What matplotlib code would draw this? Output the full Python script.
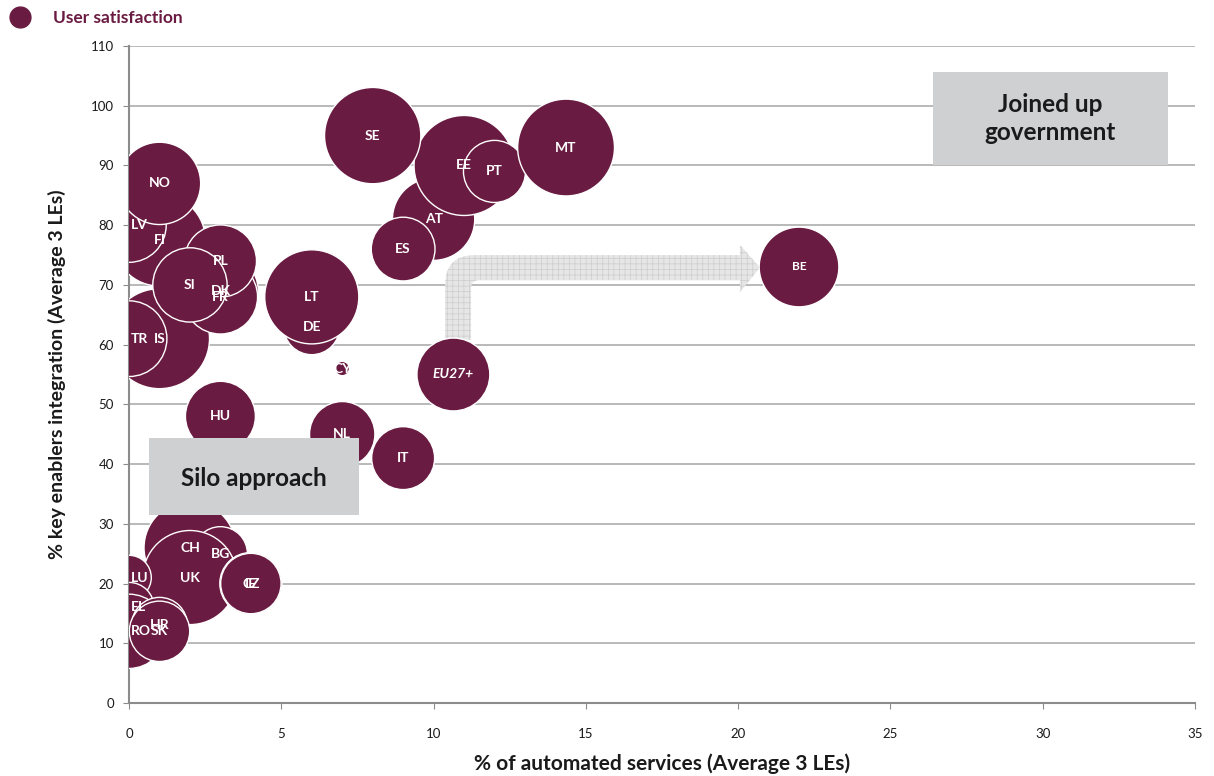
import matplotlib.pyplot as plt
from matplotlib.path import Path
from matplotlib.patches import PathPatch, Rectangle
from matplotlib.lines import Line2D

plt.rcParams['font.family'] = ['Lato', 'DejaVu Sans']
plt.rcParams['hatch.linewidth'] = 0.5

# data (draw order = list order, later ones sit on top)
countries = ['IS', 'TR', 'FI', 'LV', 'NO', 'DK', 'FR', 'PL', 'SI', 'DE', 'LT', 'CY',
             'AT', 'ES', 'EE', 'PT', 'SE', 'MT', 'EU27+', 'BE', 'HU', 'NL', 'IT',
             'CH', 'BG', 'UK', 'CZ', 'IE', 'LU', 'EL', 'RO', 'HR', 'SK']
automated = [1, 0, 1, 0, 1, 3, 3, 3, 2, 6, 6, 7,
             10, 9, 11, 12, 8, 14.35, 10.65, 22, 3, 7, 9,
             2, 3, 2, 4, 4, 0, 0, 0, 1, 1]
integration = [61, 61, 77.5, 80, 87, 69, 68, 74, 70, 63, 68, 56,
               81, 76, 90, 89, 95, 93, 55, 73, 48, 45, 41,
               26, 25, 21, 20, 20, 21, 16, 12, 13, 12]
satisfaction = [96, 55, 81, 53, 65, 55, 53, 50, 53, 30, 85, 2,
                65, 39, 96, 37, 89, 90, 51, 61, 47, 41, 38,
                81, 28, 85, 37, 35, 19, 24, 53, 30, 35]

xticks = [0, 5, 10, 15, 20, 25, 30, 35]
yticks = list(range(0, 111, 10))

maroon = '#6a1b41'
txt = '#1a1a1a'
axis_gray = '#8c8c8c'

fig = plt.figure(figsize=(12.14, 7.76), dpi=100)
ax = fig.add_axes([0.1063, 0.0941, 0.878, 0.8466])
ax.set_xlim(0, 35)
ax.set_ylim(0, 110)
ax.set_xticks(xticks)
ax.set_yticks(yticks)

ax.set_axisbelow(True)
ax.yaxis.grid(True, color='#a6a6a6', lw=1.1)
for s in ['top', 'right']:
    ax.spines[s].set_visible(False)
for s in ['left', 'bottom']:
    ax.spines[s].set_color(axis_gray)
    ax.spines[s].set_linewidth(1.5)
ax.tick_params(direction='out', length=4, color=axis_gray, labelsize=9.5,
               labelcolor=txt)
ax.tick_params(axis='x', pad=14)
ax.tick_params(axis='y', pad=7)

# bent arrow from EU27+ towards BE
verts = [(10.38, 60.8), (10.38, 70.0), (10.38, 75.0), (11.36, 75.0),
         (20.06, 75.0), (20.06, 76.7), (20.72, 72.9), (20.06, 68.8),
         (20.06, 70.8), (11.49, 70.8), (11.23, 70.8), (11.23, 69.5),
         (11.23, 60.8), (10.38, 60.8)]
codes = [Path.MOVETO, Path.LINETO, Path.CURVE3, Path.CURVE3,
         Path.LINETO, Path.LINETO, Path.LINETO, Path.LINETO,
         Path.LINETO, Path.LINETO, Path.CURVE3, Path.CURVE3,
         Path.LINETO, Path.CLOSEPOLY]
ax.add_patch(PathPatch(Path(verts, codes), facecolor='#e6e6e6', edgecolor='#cdcdcd',
                       lw=0, hatch='+++', zorder=2))

# bubbles
sizes = [v * 54 for v in satisfaction]
ax.scatter(automated, integration, s=sizes, c=maroon, edgecolors='white',
           linewidths=1.0, zorder=3)

for c, x, y in zip(countries, automated, integration):
    style = 'italic' if c == 'EU27+' else 'normal'
    fs = 8.5 if c == 'BE' else 10
    if x == 0:
        ax.annotate(c, (x, y), xytext=(1.5, 0), textcoords='offset points',
                    ha='left', va='center', color='white', fontweight='bold',
                    fontsize=fs, zorder=4)
    else:
        ax.annotate(c, (x, y), ha='center', va='center', color='white',
                    fontweight='bold', fontstyle=style, fontsize=fs, zorder=4)

# region boxes
ax.add_patch(Rectangle((26.4, 90.1), 7.7, 15.5, facecolor='#cfd0d2', lw=0, zorder=5))
ax.text(30.25, 97.85, 'Joined up\ngovernment', ha='center', va='center',
        fontsize=17.5, fontweight='bold', color=txt, linespacing=1.3, zorder=6)
ax.add_patch(Rectangle((0.66, 31.5), 6.89, 12.9, facecolor='#cfd0d2', lw=0, zorder=5))
ax.text(4.1, 37.6, 'Silo approach', ha='center', va='center',
        fontsize=17.5, fontweight='bold', color=txt, zorder=6)

ax.set_xlabel('% of automated services (Average 3 LEs)', fontsize=15,
              fontweight='bold', color=txt, labelpad=10)
ax.set_ylabel('% key enablers integration (Average 3 LEs)', fontsize=14,
              fontweight='bold', color=txt, labelpad=18)

# legend
handle = Line2D([], [], marker='o', ls='', color=maroon, markersize=15)
leg = fig.legend(handles=[handle], labels=['User satisfaction'], loc='upper left',
                 bbox_to_anchor=(-0.011, 1.007), frameon=False, handletextpad=0.9,
                 prop={'weight': 'bold', 'size': 12.5})
for t in leg.get_texts():
    t.set_color(maroon)

fig.savefig('out.png', dpi=100)
